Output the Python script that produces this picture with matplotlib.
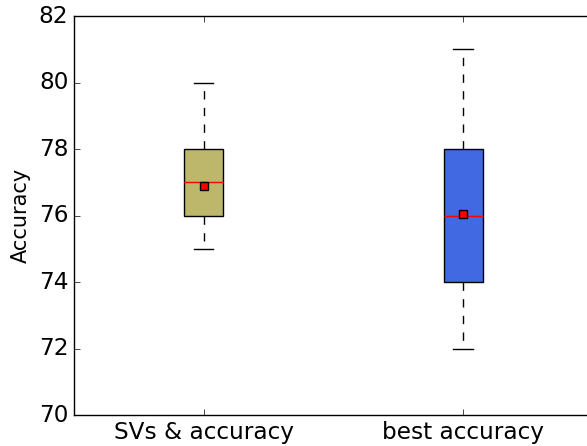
import matplotlib
matplotlib.use("Agg")
import matplotlib.pyplot as plt

plt.style.use("classic")

labels = ["SVs & accuracy", "best accuracy"]
whisker_low = [75, 72]
q1 = [76, 74]
medians = [77, 76]
q3 = [78, 78]
whisker_high = [80, 81]
means = [76.9, 76.05]
box_colors = ["#BDB76B", "#4169E1"]

stats = []
for i, lab in enumerate(labels):
    stats.append({
        "label": lab,
        "whislo": whisker_low[i],
        "q1": q1[i],
        "med": medians[i],
        "q3": q3[i],
        "whishi": whisker_high[i],
        "mean": means[i],
        "fliers": [],
    })

fig = plt.figure(figsize=(5.87, 4.46), dpi=100, facecolor="white")
ax = fig.add_axes([0.126, 0.0695, 0.884, 0.8945])
ax.set_facecolor("white")

bp = ax.bxp(
    stats,
    widths=0.15,
    patch_artist=True,
    showmeans=True,
    meanprops=dict(marker="s", markerfacecolor="red", markeredgecolor="black",
                   markersize=6, markeredgewidth=1),
    medianprops=dict(color="red", linewidth=1),
    whiskerprops=dict(color="black", linestyle="--", linewidth=1),
    capprops=dict(color="black", linewidth=1),
    boxprops=dict(edgecolor="black", linewidth=1),
)
for patch, c in zip(bp["boxes"], box_colors):
    patch.set_facecolor(c)

ax.set_xlim(0.5, 2.5)
ax.set_ylim(70, 82)
ax.set_yticks(range(70, 83, 2))
ax.set_ylabel("Accuracy", fontsize=15, labelpad=6)
ax.tick_params(axis="both", labelsize=16.7)

fig.savefig("out.png", dpi=100, facecolor="white")
